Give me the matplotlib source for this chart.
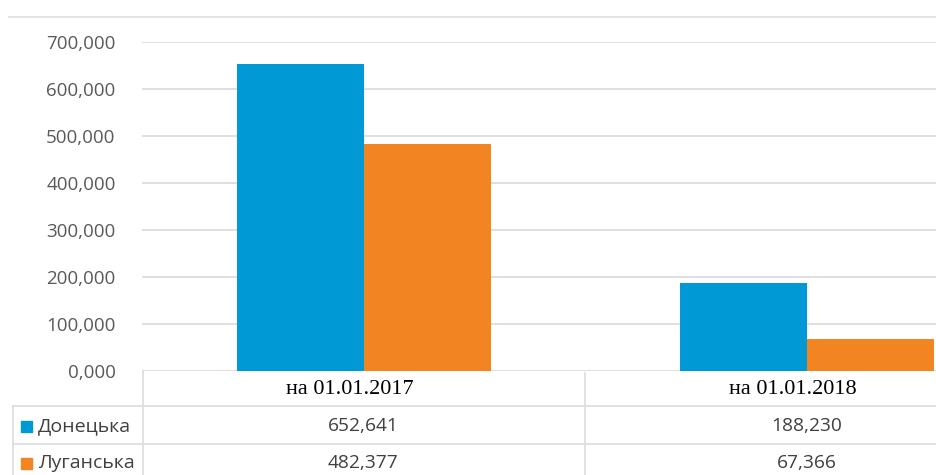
import numpy as np
import matplotlib
matplotlib.use("Agg")
import matplotlib.pyplot as plt
from matplotlib.patches import Rectangle
from matplotlib.lines import Line2D
import matplotlib.transforms as mtransforms

# data
categories = ["на 01.01.2017", "на 01.01.2018"]
series_names = ["Донецька", "Луганська"]
donetsk = [652.641, 188.230]
luhansk = [482.377, 67.366]
donetsk_labels = ["652,641", "188,230"]
luhansk_labels = ["482,377", "67,366"]
yticks = [0, 100, 200, 300, 400, 500, 600, 700]
ytick_labels = ["0,000", "100,000", "200,000", "300,000", "400,000",
                "500,000", "600,000", "700,000"]
colors = ["#0099D6", "#F28522"]

W, H = 937, 475
plt.rcParams["font.family"] = ["Open Sans", "DejaVu Sans"]
fig = plt.figure(figsize=(W / 100, H / 100), dpi=100)


def fy(py):
    return 1 - py / H


def fx(px):
    return px / W


# axes extends past the right edge (chart is cropped in the source)
ax = fig.add_axes([fx(142), fy(371), fx(1028 - 142), (371 - 42) / H])

x = np.arange(len(categories))
w = 127 / 443
ax.bar(x - w / 2, donetsk, w, color=colors[0], zorder=3)
ax.bar(x + w / 2, luhansk, w, color=colors[1], zorder=3)

ax.set_xlim(-0.5, 1.5)
ax.set_ylim(0, 700)
ax.set_yticks(yticks)
ax.set_yticklabels(ytick_labels, fontsize=13.5, color="#595959")
ax.tick_params(axis="y", length=0, pad=19)
ax.tick_params(axis="x", length=0, labelbottom=False)
ax.grid(axis="y", color="#d9d9d9", lw=1.2, zorder=0)
for s in ax.spines.values():
    s.set_visible(False)

grid_c = "#dcdcdc"
# top border of chart area
fig.add_artist(Line2D([fx(9), 1], [fy(17), fy(17)], color="#e3e3e3", lw=1.5))

# data table below the plot
tr = mtransforms.blended_transform_factory(ax.transData, fig.transFigure)
fig.add_artist(Line2D([fx(13), 1], [fy(406), fy(406)], color=grid_c, lw=1.2))
fig.add_artist(Line2D([fx(13), 1], [fy(444), fy(444)], color=grid_c, lw=1.2))
fig.add_artist(Line2D([fx(13), fx(13)], [fy(406), 0], color=grid_c, lw=1.2))
fig.add_artist(Line2D([fx(143), fx(143)], [fy(371), 0], color=grid_c, lw=1.2))
for b in x[:-1] + 0.5:
    fig.add_artist(Line2D([b, b], [fy(373), 0], color=grid_c, lw=1.2, transform=tr))

for i, cat in enumerate(categories):
    fig.text(i - 0.03, fy(390), cat, transform=tr, ha="center", va="center",
             fontsize=16, family="Liberation Serif", color="#000000")
    fig.text(i, fy(426), donetsk_labels[i], transform=tr, ha="center", va="center",
             fontsize=13.8, color="#404040")
    fig.text(i, fy(463), luhansk_labels[i], transform=tr, ha="center", va="center",
             fontsize=13.8, color="#404040")

for name, c, py in zip(series_names, colors, [426, 463]):
    fig.add_artist(Rectangle((fx(21), fy(py + 5.5)), fx(11), 11 / H, color=c,
                             transform=fig.transFigure))
    fig.text(fx(38), fy(py), name, ha="left", va="center", fontsize=14,
             color="#404040")

fig.savefig("out.png", dpi=100)
